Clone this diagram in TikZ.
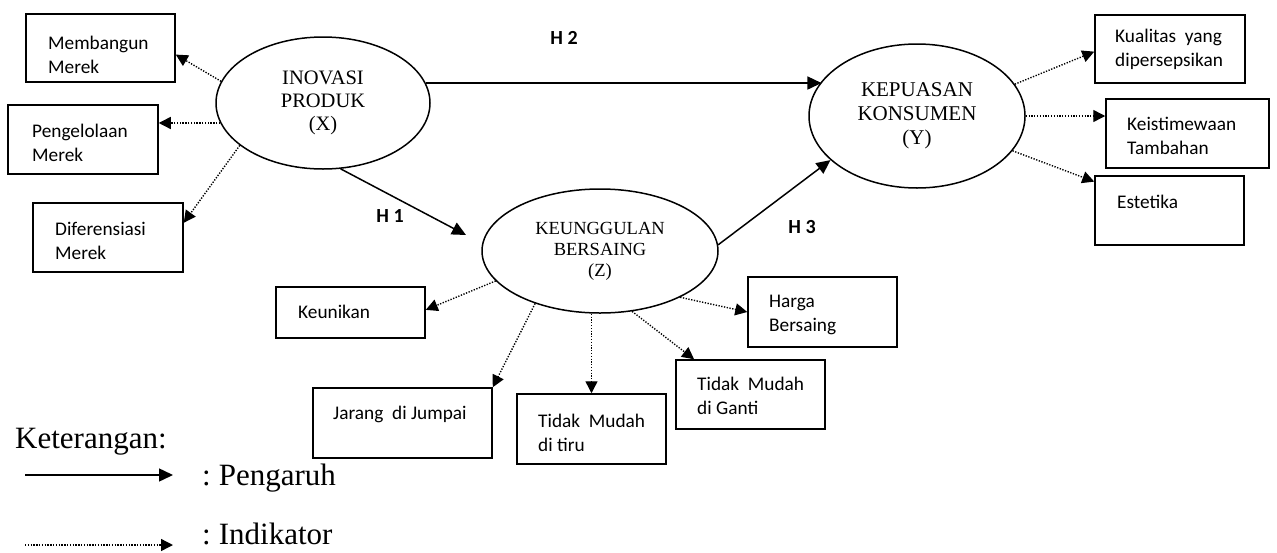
\documentclass[tikz,border=0pt]{standalone}
\usepackage{fontspec}
\setmainfont{Liberation Serif}
\newfontfamily\boxfont{Carlito}
\usetikzlibrary{arrows.meta,shapes.geometric}
\begin{document}
\begin{tikzpicture}[x=1pt,y=-1pt,
  box/.style={draw, line width=1.5pt, inner sep=0pt},
  btext/.style={anchor=north west, inner sep=0pt, align=left, font=\boxfont\fontsize{19.3}{24.5}\selectfont},
  ell/.style={draw, ellipse, line width=1.5pt, inner sep=0pt, align=center},
  main/.style={line width=1.5pt, -{Triangle[length=14pt,width=13pt]}},
  ind/.style={line width=1.4pt, dash pattern=on 1.3pt off 1.5pt, -{Triangle[length=12pt,width=12pt]}},
  hlab/.style={font=\boxfont\bfseries\fontsize{20}{24}\selectfont, inner sep=0pt},
  legtext/.style={anchor=base west, inner sep=0pt, font=\fontsize{31}{36}\selectfont},
]
\useasboundingbox (0,0) rectangle (1277,552);

% ellipses
\node[ell, minimum width=214pt, minimum height=132pt, font=\fontsize{20.5}{23}\selectfont] (X) at (323,103) {INOVASI\\PRODUK\\(X)};
\node[ell, minimum width=216pt, minimum height=144pt, font=\fontsize{21}{24}\selectfont] (Y) at (917,116) {KEPUASAN\\KONSUMEN\\(Y)};
\node[ell, minimum width=236pt, minimum height=124pt, font=\fontsize{18.5}{21}\selectfont] (Z) at (600,251) {KEUNGGULAN\\BERSAING\\(Z)};

% boxes
\node[box, minimum width=149pt, minimum height=68pt] (mb) at (100.5,48) {};
\node[box, minimum width=150pt, minimum height=69pt] (pg) at (83,139.5) {};
\node[box, minimum width=150pt, minimum height=69pt] (df) at (108,237.5) {};
\node[box, minimum width=150pt, minimum height=68pt] (kq) at (1170,49) {};
\node[box, minimum width=163pt, minimum height=69pt] (kt) at (1187.5,133.5) {};
\node[box, minimum width=149pt, minimum height=69pt] (es) at (1169.5,210.5) {};
\node[box, minimum width=149pt, minimum height=51pt] (ku) at (350.5,312.5) {};
\node[box, minimum width=179pt, minimum height=70pt] (jr) at (402.5,423) {};
\node[box, minimum width=149pt, minimum height=70pt] (tr) at (591.5,429) {};
\node[box, minimum width=149pt, minimum height=69pt] (tg) at (750.5,394.5) {};
\node[box, minimum width=149pt, minimum height=70pt] (hb) at (822.5,312) {};

% box texts
\node[btext] (tmb) at (48,35.7) {Membangun\\Merek};
\node[btext] (tpg) at (32,123.7) {Pengelolaan\\Merek};
\node[btext] (tdf) at (55,221.7) {Diferensiasi\\Merek};
\node[btext] (tkq) at (1115,28.7) {Kualitas\ \ yang\\dipersepsikan};
\node[btext] (tkt) at (1127,116.7) {Keistimewaan\\Tambahan};
\node[btext] (tes) at (1117,194.7) {Estetika};
\node[btext] (tku) at (298,304.7) {Keunikan};
\node[btext] (tjr) at (333,405.7) {Jarang\ \ di Jumpai};
\node[btext] (ttr) at (538,413.7) {Tidak\ \ Mudah\\di tiru};
\node[btext] (ttg) at (697,376.7) {Tidak\ \ Mudah\\di Ganti};
\node[btext] (thb) at (769,294.7) {Harga\\Bersaing};

% hypothesis arrows
\coordinate (h1end) at (466,235);
\draw[main] (X.285) -- (h1end);
\draw[main] (X.11) -- (X.11 -| Y.160);
\draw[main] (Z.3) -- (Y.207);
\node[hlab] (H1) at (390,216) {H 1};
\node[hlab] (H2) at (564,38) {H 2};
\node[hlab] (H3) at (802,227) {H 3};

% indicator arrows
\draw[ind] (X.168) -- (mb.355);
\draw[ind] (X.191) -- (X.191 -| pg.east);
\draw[ind] (X.207) -- (df.11);
\draw[ind] (Y.18) -- (kq.182);
\draw[ind] (Y.east) -- (Y.east -| kt.west);
\draw[ind] (Y.340) -- (es.159);
\draw[ind] (Z.196) -- (ku.2);
\draw[ind] (Z.219) -- (jr.north east);
\draw[ind] (tr.north |- Z.south) -- (tr.north);
\draw[ind] (Z.298) -- (tg.148);
\draw[ind] (Z.330) -- (hb.west);

% legend
\node[legtext] (ket) at (15,448) {Keterangan:};
\coordinate (l1a) at (25,475);
\coordinate (l1b) at (173,475);
\coordinate (l2a) at (25,545);
\coordinate (l2b) at (173,545);
\draw[main] (l1a) -- (l1b);
\draw[ind] (l2a) -- (l2b);
\node[legtext] (lp) at (202,485) {:\kern8pt\relax Pengaruh};
\node[legtext] (li) at (202,544) {:\kern8pt\relax Indikator};
\end{tikzpicture}
\end{document}
